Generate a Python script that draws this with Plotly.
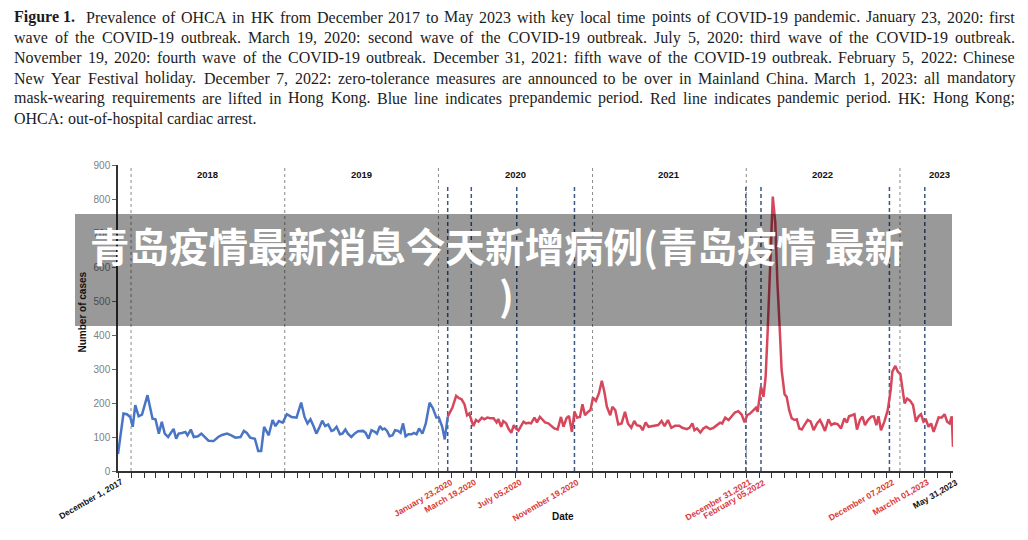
import plotly.graph_objects as go

# ---------------- data ----------------
pre_dates = [
    "2017-12-01", "2017-12-08", "2017-12-14", "2017-12-22", "2017-12-30", "2018-01-05", "2018-01-11",
    "2018-01-19", "2018-01-27", "2018-02-09", "2018-02-16", "2018-02-21", "2018-02-28", "2018-03-08",
    "2018-03-15", "2018-03-22", "2018-03-30", "2018-04-05", "2018-04-12", "2018-04-18", "2018-04-24",
    "2018-05-02", "2018-05-10", "2018-05-15", "2018-05-23", "2018-05-30", "2018-06-09", "2018-06-17",
    "2018-06-25", "2018-07-04", "2018-07-16", "2018-07-27", "2018-08-05", "2018-08-17", "2018-08-27",
    "2018-09-06", "2018-09-18", "2018-09-26", "2018-10-03", "2018-10-11", "2018-10-22", "2018-10-30",
    "2018-11-06", "2018-11-13", "2018-11-24", "2018-12-03", "2018-12-10", "2018-12-18", "2018-12-27",
    "2019-01-06", "2019-01-17", "2019-01-29", "2019-02-09", "2019-02-17", "2019-02-24", "2019-03-03",
    "2019-03-11", "2019-03-17", "2019-03-25", "2019-03-31", "2019-04-07", "2019-04-14", "2019-04-22",
    "2019-04-27", "2019-05-04", "2019-05-12", "2019-05-18", "2019-05-25", "2019-05-31", "2019-06-08",
    "2019-06-16", "2019-06-24", "2019-07-06", "2019-07-12", "2019-07-19", "2019-07-26", "2019-08-03",
    "2019-08-08", "2019-08-15", "2019-08-21", "2019-08-26", "2019-09-01", "2019-09-07", "2019-09-14",
    "2019-09-20", "2019-09-27", "2019-10-03", "2019-10-09", "2019-10-15", "2019-10-22", "2019-10-29",
    "2019-11-04", "2019-11-10", "2019-11-16", "2019-11-24", "2019-12-02", "2019-12-11", "2019-12-19",
    "2019-12-27", "2020-01-02", "2020-01-10", "2020-01-16", "2020-01-23",
]
pre_values = [
    50, 120, 169, 167, 159, 130, 194,
    161, 166, 223, 179, 154, 152, 110,
    145, 110, 100, 112, 124, 95, 110,
    112, 115, 105, 122, 100, 102, 110,
    100, 89, 88, 100, 106, 110, 105,
    98, 100, 118, 112, 98, 95, 59,
    59, 130, 105, 150, 132, 147, 142,
    167, 159, 157, 201, 159, 140, 152,
    130, 110, 130, 148, 132, 137, 118,
    120, 130, 108, 110, 122, 110, 100,
    110, 117, 118, 112, 95, 120, 115,
    110, 132, 122, 125, 118, 102, 105,
    120, 118, 112, 140, 102, 108, 108,
    112, 108, 125, 110, 140, 201, 184,
    157, 157, 130, 93, 160,
]

pan_dates = [
    "2020-01-23", "2020-02-03", "2020-02-12", "2020-02-19", "2020-02-25", "2020-03-03", "2020-03-09",
    "2020-03-14", "2020-03-18", "2020-03-24", "2020-03-30", "2020-04-05", "2020-04-13", "2020-04-19",
    "2020-04-26", "2020-05-03", "2020-05-11", "2020-05-18", "2020-05-22", "2020-05-29", "2020-06-03",
    "2020-06-10", "2020-06-15", "2020-06-22", "2020-06-28", "2020-07-03", "2020-07-09", "2020-07-15",
    "2020-07-21", "2020-07-27", "2020-08-02", "2020-08-08", "2020-08-16", "2020-08-22", "2020-08-29",
    "2020-09-05", "2020-09-10", "2020-09-18", "2020-09-25", "2020-10-02", "2020-10-10", "2020-10-18",
    "2020-10-24", "2020-10-31", "2020-11-06", "2020-11-13", "2020-11-19", "2020-11-25", "2020-12-02",
    "2020-12-08", "2020-12-14", "2020-12-21", "2020-12-27", "2021-01-02", "2021-01-09", "2021-01-16",
    "2021-01-23", "2021-01-29", "2021-02-04", "2021-02-12", "2021-02-17", "2021-02-24", "2021-03-03",
    "2021-03-11", "2021-03-19", "2021-03-26", "2021-04-03", "2021-04-10", "2021-04-16", "2021-04-24",
    "2021-04-30", "2021-05-07", "2021-05-14", "2021-05-22", "2021-05-30", "2021-06-06", "2021-06-14",
    "2021-06-21", "2021-06-29", "2021-07-07", "2021-07-16", "2021-07-26", "2021-08-02", "2021-08-13",
    "2021-08-19", "2021-08-26", "2021-08-31", "2021-09-06", "2021-09-14", "2021-09-21", "2021-09-28",
    "2021-10-07", "2021-10-15", "2021-10-23", "2021-10-31", "2021-11-05", "2021-11-12", "2021-11-20",
    "2021-11-28", "2021-12-05", "2021-12-13", "2021-12-21", "2021-12-28", "2022-01-03", "2022-01-10",
    "2022-01-18", "2022-01-24", "2022-01-28", "2022-02-05", "2022-02-11", "2022-02-16", "2022-02-21",
    "2022-02-27", "2022-03-05", "2022-03-11", "2022-03-16", "2022-03-22", "2022-03-26", "2022-04-02",
    "2022-04-07", "2022-04-13", "2022-04-19", "2022-04-26", "2022-05-01", "2022-05-07", "2022-05-13",
    "2022-05-19", "2022-05-27", "2022-06-03", "2022-06-10", "2022-06-18", "2022-06-25", "2022-07-01",
    "2022-07-07", "2022-07-15", "2022-07-22", "2022-07-29", "2022-08-06", "2022-08-14", "2022-08-22",
    "2022-08-28", "2022-09-02", "2022-09-09", "2022-09-15", "2022-09-21", "2022-09-28", "2022-10-04",
    "2022-10-10", "2022-10-17", "2022-10-25", "2022-10-31", "2022-11-06", "2022-11-11", "2022-11-17",
    "2022-11-25", "2022-12-03", "2022-12-10", "2022-12-14", "2022-12-21", "2022-12-27", "2023-01-02",
    "2023-01-07", "2023-01-12", "2023-01-18", "2023-01-25", "2023-02-01", "2023-02-08", "2023-02-14",
    "2023-02-20", "2023-02-26", "2023-03-04", "2023-03-10", "2023-03-16", "2023-03-22", "2023-03-28",
    "2023-04-03", "2023-04-10", "2023-04-17", "2023-04-23", "2023-04-29", "2023-05-04", "2023-05-07",
]
pan_values = [
    160, 186, 221, 214, 211, 196, 164,
    169, 155, 132, 150, 145, 157, 152,
    157, 155, 155, 143, 153, 130, 147,
    140, 125, 112, 135, 125, 119, 132,
    145, 140, 142, 140, 157, 143, 159,
    150, 143, 140, 132, 125, 122, 159,
    130, 155, 162, 115, 174, 157, 159,
    196, 164, 174, 179, 216, 206, 228,
    265, 233, 189, 164, 189, 179, 137,
    140, 174, 140, 127, 147, 135, 132,
    120, 143, 130, 132, 133, 135, 147,
    132, 150, 127, 133, 133, 127, 123,
    127, 140, 120, 125, 113, 125, 130,
    123, 127, 135, 142, 140, 157, 150,
    162, 172, 176, 166, 143, 164, 169,
    179, 186, 174, 248, 218, 277, 415,
    632, 807, 730, 553, 405, 297, 226,
    218, 179, 155, 150, 152, 125, 122,
    135, 150, 145, 120, 140, 150, 135,
    118, 152, 135, 140, 138, 125, 155,
    142, 161, 164, 167, 122, 150, 160,
    135, 150, 160, 161, 135, 161, 120,
    145, 179, 238, 292, 309, 292, 285,
    238, 199, 213, 207, 194, 145, 160,
    167, 145, 150, 130, 140, 115, 135,
    158, 157, 167, 145, 140, 161, 71,
]

year_lines = ["2018-01-01", "2019-01-01", "2020-01-01", "2021-01-01", "2022-01-01", "2023-01-01"]
year_labels = ["2018", "2019", "2020", "2021", "2022", "2023"]
year_label_dates = ["2018-07-02", "2019-07-02", "2020-07-02", "2021-07-02", "2022-07-02", "2023-04-05"]

event_dates = ["2020-01-23", "2020-03-19", "2020-07-05", "2020-11-19",
               "2021-12-31", "2022-02-05", "2022-12-07", "2023-03-01"]
event_labels = ["January 23,2020", "March 19,2020", "July 05,2020", "November 19,2020",
                "December 31,2021", "February 05,2022", "December 07,2022", "Marchh 01,2023"]

start_label = "December 1, 2017"
end_label = "May 31,2023"
y_ticks = [0, 100, 200, 300, 400, 500, 600, 700, 800, 900]

caption_label = "Figure 1."
caption_lines = [
    "Prevalence of OHCA in HK from December 2017 to May 2023 with key local time points of COVID-19 pandemic. January 23, 2020: first",
    "wave of the COVID-19 outbreak. March 19, 2020: second wave of the COVID-19 outbreak. July 5, 2020: third wave of the COVID-19 outbreak.",
    "November 19, 2020: fourth wave of the COVID-19 outbreak. December 31, 2021: fifth wave of the COVID-19 outbreak. February 5, 2022: Chinese",
    "New Year Festival holiday. December 7, 2022: zero-tolerance measures are announced to be over in Mainland China. March 1, 2023: all mandatory",
    "mask-wearing requirements are lifted in Hong Kong. Blue line indicates prepandemic period. Red line indicates pandemic period. HK: Hong Kong;",
    "OHCA: out-of-hospital cardiac arrest.",
]
banner_line1 = "青岛疫情最新消息今天新增病例(青岛疫情 最新"
banner_line2 = ")"

# ---------------- layout geometry ----------------
# the page body has an 8px margin, so the figure is drawn 8px in from the window corner
OFF = 8
WIN_W, WIN_H = 1028, 540
W, H = WIN_W - OFF, WIN_H - OFF
# plot area in window pixels
L, R, T, B = 118, 953, 165, 471


def px(x):
    return (x - L) / (R - L)


def py(y):
    return (B - y) / (B - T)


# Times (Liberation Serif) advance widths, per 1000 em
TIMES = {" ": 250, ".": 250, ",": 250, ":": 278, ";": 278, "-": 333, "(": 333, ")": 333}
TIMES.update({c: 500 for c in "0123456789"})
TIMES.update(dict(zip("ABCDEFGHIJKLMNOPQRSTUVWXYZ",
                      [722, 667, 667, 722, 611, 556, 722, 722, 333, 389, 722, 611, 889,
                       722, 722, 556, 722, 667, 556, 611, 722, 722, 944, 722, 722, 611])))
TIMES.update(dict(zip("abcdefghijklmnopqrstuvwxyz",
                      [444, 500, 444, 500, 444, 333, 500, 500, 278, 278, 500, 278, 778,
                       500, 500, 500, 500, 333, 389, 278, 500, 500, 722, 500, 500, 444])))
TIMES_B = {"F": 611, "i": 278, "g": 500, "u": 556, "r": 444, "e": 444, " ": 250, "1": 500, ".": 250}


def text_w(s, size, bold=False):
    tbl = TIMES_B if bold else TIMES
    return sum(tbl.get(c, 500) for c in s) * size / 1000.0


fig = go.Figure()
fig.add_trace(go.Scatter(x=pre_dates, y=pre_values, mode="lines",
                         line=dict(color="#4a74c4", width=2.5), showlegend=False))
fig.add_trace(go.Scatter(x=pan_dates, y=pan_values, mode="lines",
                         line=dict(color="#d6475c", width=2.5), showlegend=False))

shapes = []
for d in year_lines:
    shapes.append(dict(type="line", xref="x", yref="y", x0=d, x1=d, y0=0, y1=900,
                       line=dict(color="#8a8a8a", width=1, dash="dot"), layer="below"))
for d in event_dates:
    shapes.append(dict(type="line", xref="x", yref="y", x0=d, x1=d, y0=0, y1=840,
                       line=dict(color="#3b5886", width=1.5, dash="4px,3px"), layer="below"))
# grey banner overlay
shapes.append(dict(type="rect", xref="paper", yref="paper", x0=px(75), x1=px(952),
                   y0=py(326), y1=py(214), fillcolor="rgba(0,0,0,0.4)",
                   line=dict(width=0), layer="above"))

ann = []
SANS = "Liberation Sans, Arial, sans-serif"
for lab, d in zip(year_labels, year_label_dates):
    ann.append(dict(x=d, y=873, xref="x", yref="y", text="<b>%s</b>" % lab, showarrow=False,
                    font=dict(family=SANS, size=9.5, color="#111111")))

LAB_XS, LAB_YS = 9, -3
for lab, d in zip(event_labels, event_dates):
    ann.append(dict(x=d, y=0, xref="x", yref="y", text="<b>%s</b>" % lab, showarrow=False,
                    textangle=-30, xanchor="right", yanchor="top", xshift=LAB_XS, yshift=LAB_YS,
                    font=dict(family=SANS, size=8.5, color="#dc3a3a")))
ann.append(dict(x=0, y=0, xref="paper", yref="y", text="<b>%s</b>" % start_label, showarrow=False,
                textangle=-30, xanchor="right", yanchor="top", xshift=LAB_XS, yshift=LAB_YS,
                font=dict(family=SANS, size=8.5, color="#111111")))
ann.append(dict(x=1, y=0, xref="paper", yref="y", text="<b>%s</b>" % end_label, showarrow=False,
                textangle=-30, xanchor="right", yanchor="top", xshift=LAB_XS, yshift=LAB_YS,
                font=dict(family=SANS, size=8.5, color="#111111")))

ann.append(dict(x=px(74), y=py(312), xref="paper", yref="paper", text="<b>Number of cases</b>",
                showarrow=False, textangle=-90, font=dict(family=SANS, size=10, color="#111111")))
ann.append(dict(x=px(563), y=py(524), xref="paper", yref="paper", text="<b>Date</b>",
                showarrow=False, font=dict(family=SANS, size=10, color="#111111")))

# caption, justified word by word
cap_size = 16
cap_left, cap_right = 14, 1015
cap_y0, cap_dy = 17.5, 20.2
for i, line in enumerate(caption_lines):
    tokens = [(w, False) for w in line.split(" ")]
    if i == 0:
        tokens = [(caption_label, True)] + tokens
    widths = [text_w(t, cap_size, b) for t, b in tokens]
    if i == 0:
        widths[0] += 5
    if i < len(caption_lines) - 1:
        gap = (cap_right - cap_left - sum(widths)) / (len(tokens) - 1)
    else:
        gap = 0.25 * cap_size
    x = cap_left
    cy = cap_y0 + i * cap_dy
    for (t, b), w in zip(tokens, widths):
        ann.append(dict(x=px(x), y=py(cy), xref="paper", yref="paper",
                        text=("<b>%s</b>" % t) if b else t, showarrow=False,
                        xanchor="left", yanchor="middle", borderpad=0, borderwidth=0,
                        font=dict(family="Liberation Serif, Times New Roman, serif",
                                  size=cap_size, color="#1c1c1c")))
        x += w + gap

BANNER_FONT = dict(family="Noto Sans CJK SC", size=39.5, color="#ffffff")
ann.append(dict(x=px(497), y=py(244), xref="paper", yref="paper", text="<b>%s</b>" % banner_line1,
                showarrow=False, xanchor="center", yanchor="middle", borderpad=0, borderwidth=0,
                font=BANNER_FONT))
ann.append(dict(x=px(506), y=py(293), xref="paper", yref="paper", text="<b>%s</b>" % banner_line2,
                showarrow=False, xanchor="center", yanchor="middle", borderpad=0, borderwidth=0,
                font=BANNER_FONT))

fig.update_layout(
    width=W, height=H,
    margin=dict(l=L - OFF, r=W - (R - OFF), t=T - OFF, b=H - (B - OFF), pad=0),
    paper_bgcolor="white", plot_bgcolor="white",
    shapes=shapes, annotations=ann, showlegend=False,
    xaxis=dict(type="date", range=["2017-12-01", "2023-05-07"], showline=True,
               linecolor="#333333", linewidth=1.5, ticks="outside", ticklen=5, tickwidth=1,
               tickcolor="#333333", tick0="2017-12-01", dtick="M1", showticklabels=False,
               showgrid=False, zeroline=False),
    yaxis=dict(range=[0, 900], tickmode="array", tickvals=y_ticks, showline=True,
               linecolor="#333333", linewidth=1.5, ticks="outside", ticklen=4,
               tickcolor="#666666", tickfont=dict(family=SANS, size=10, color="#808080"),
               showgrid=False, zeroline=False),
)

fig.write_html("out.html")
